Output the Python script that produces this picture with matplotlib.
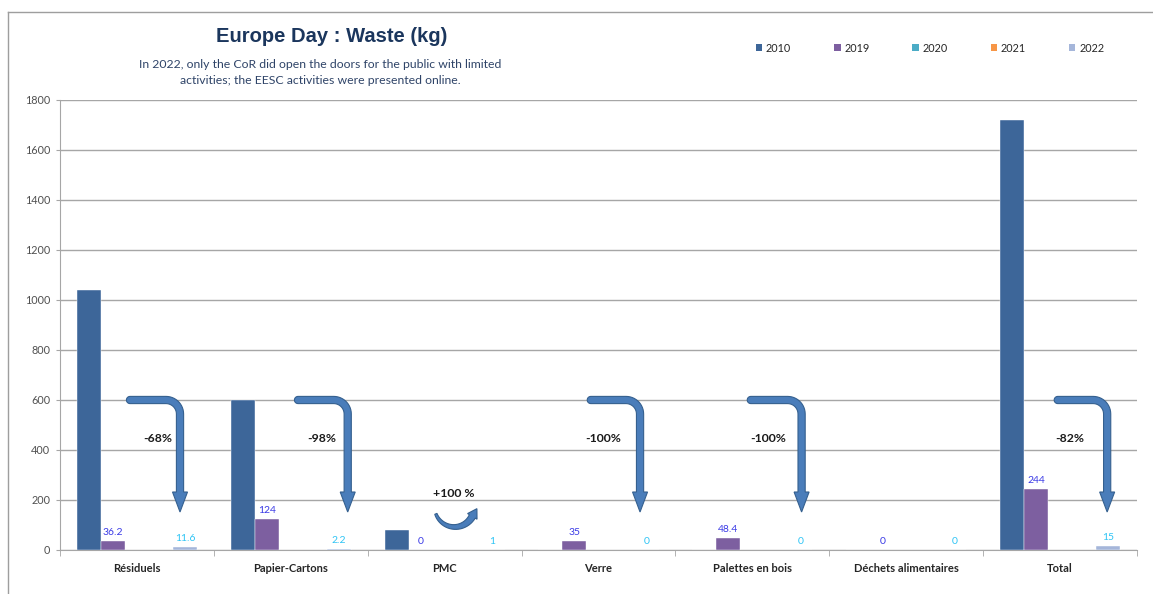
import numpy as np
import matplotlib
matplotlib.use('Agg')
import matplotlib.pyplot as plt
from matplotlib.patches import Polygon, Patch
from matplotlib.lines import Line2D

categories = ['Résiduels', 'Papier-Cartons', 'PMC', 'Verre', 'Palettes en bois',
              'Déchets alimentaires', 'Total']
years = ['2010', '2019', '2020', '2021', '2022']
waste_2010 = [1040, 600, 80, 0, 0, 0, 1720]
waste_2019 = [36.2, 124, 0, 35, 48.4, 0, 244]
waste_2020 = [0, 0, 0, 0, 0, 0, 0]
waste_2021 = [0, 0, 0, 0, 0, 0, 0]
waste_2022 = [11.6, 2.2, 1, 0, 0, 0, 15]
colors = ['#3D6699', '#7D5FA0', '#4BACC6', '#F79646', '#A5B6DA']

# evolution 2010 -> 2022 written next to the arrows
changes = ['-68%', '-98%', '+100 %', '-100%', '-100%', None, '-82%']

ARROW_FC = '#4A7DBA'
ARROW_EC = '#35608F'
GRID = '#A6A6A6'


def band_arrow(ax, pts, half, head_w, head_l, round_start=False):
    # thick arrow built as a polygon around a centerline given in pixels
    pts = np.asarray(pts, float)
    d = np.gradient(pts, axis=0)
    d /= np.hypot(d[:, 0], d[:, 1])[:, None]
    n = np.column_stack([-d[:, 1], d[:, 0]])
    half = np.broadcast_to(np.asarray(half, float), (len(pts),))[:, None]
    left = pts + n * half
    right = pts - n * half
    end, de, ne = pts[-1], d[-1], n[-1]
    head = [end + ne * head_w, end + de * head_l, end - ne * head_w]
    parts = [left, head, right[::-1]]
    if round_start:
        t = np.linspace(0, np.pi, 12)[1:-1, None]
        p0, d0, n0, h0 = pts[0], d[0], n[0], half[0, 0]
        parts.append(p0 + h0 * (np.cos(t) * -n0 + np.sin(t) * -d0))
    outline = np.vstack(parts)
    ax.add_patch(Polygon(ax.transData.inverted().transform(outline), closed=True,
                         fc=ARROW_FC, ec=ARROW_EC, lw=0.8, zorder=5, clip_on=False))


def bent_arrow(ax, start, tip, r=14, head_l=20):
    (sx, sy), (tx, ty) = ax.transData.transform([start, tip])
    cx, cy = tx - r, sy - r
    a = np.linspace(np.pi / 2, 0, 14)
    horiz = np.column_stack([np.linspace(sx, cx, 8)[:-1], np.full(7, sy)])
    arc = np.column_stack([cx + r * np.cos(a), cy + r * np.sin(a)])
    vert = np.column_stack([np.full(8, tx), np.linspace(cy, ty + head_l, 9)[1:]])
    band_arrow(ax, np.vstack([horiz, arc, vert]), 3.6, 7.5, head_l, round_start=True)


def u_arrow(ax, center, r=20):
    cx, cy = ax.transData.transform([center])[0]
    a = np.radians(np.linspace(200, 332, 24))
    pts = np.column_stack([cx + r * np.cos(a), cy + r * np.sin(a)])
    band_arrow(ax, pts, np.linspace(1.2, 3.4, 24), 5.5, 9)


fig = plt.figure(figsize=(11.53, 5.94), dpi=100)
ax = fig.add_axes([60 / 1153, 44 / 594, 1077 / 1153, 450 / 594])

x = np.arange(len(categories))
width = 0.156
series = [waste_2010, waste_2019, waste_2020, waste_2021, waste_2022]
containers = []
for k, (vals, col) in enumerate(zip(series, colors)):
    bars = ax.bar(x + (k - 2) * width, vals, width, color=col, label=years[k],
                  edgecolor='white', linewidth=0.3, zorder=3)
    containers.append(bars)

ax.bar_label(containers[1], fmt='%g', padding=3, color='#3A3AE6', fontsize=7.5,
             family='Lato')
ax.bar_label(containers[4], fmt='%g', padding=3, color='#2EC4F5', fontsize=7.5,
             family='Lato')

ax.set_xlim(-0.5, 6.5)
ax.set_ylim(0, 1800)
ax.set_yticks(np.arange(0, 1801, 200))
ax.yaxis.grid(True, color=GRID, lw=1)
ax.set_axisbelow(True)
for s in ['top', 'right']:
    ax.spines[s].set_visible(False)
for s in ['left', 'bottom']:
    ax.spines[s].set_color(GRID)
ax.tick_params(axis='y', colors=GRID, labelcolor='#505050', labelsize=7.8, length=3, pad=4)
for lab in ax.get_yticklabels():
    lab.set_family('Lato')

ax.set_xticks(x)
ax.set_xticklabels(categories, fontsize=8, fontweight='bold', color='#262626', family='Lato')
ax.set_xticks(np.arange(-0.5, 7, 1), minor=True)
ax.tick_params(axis='x', which='major', length=0, pad=9)
ax.tick_params(axis='x', which='minor', length=4, color=GRID)

# arrows showing the change between 2010 and 2022
arrow_start = [-0.045, 0.047, None, -0.05, -0.01, None, -0.015]
arrow_tip = [0.28, 0.37, None, 0.27, 0.32, None, 0.306]
text_dx = [0.136, 0.2, 0.06, 0.03, 0.10, None, 0.06]
for i in range(len(categories)):
    if changes[i] is None:
        continue
    if arrow_start[i] is not None:
        bent_arrow(ax, (i + arrow_start[i], 600), (i + arrow_tip[i], 152))
        ax.text(i + text_dx[i], 445, changes[i], ha='center', va='center',
                fontsize=8.8, fontweight='bold', color='#1A1A1A', family='Lato', zorder=6)
    else:
        u_arrow(ax, (i + 0.065, 172))
        ax.text(i + text_dx[i], 226, changes[i], ha='center', va='center',
                fontsize=8.8, fontweight='bold', color='#1A1A1A', family='Lato', zorder=6)

fig.text(332 / 1153, 1 - 37 / 594, 'Europe Day : Waste (kg)', ha='center', va='center',
         fontsize=14.5, fontweight='bold', color='#1B365D', family='Liberation Sans')
fig.text(320 / 1153, 1 - 64 / 594,
         'In 2022, only the CoR did open the doors for the public with limited',
         ha='center', va='center', fontsize=8.8, color='#2F4468', family='Lato')
fig.text(320 / 1153, 1 - 81 / 594, 'activities; the EESC activities were presented online.',
         ha='center', va='center', fontsize=8.8, color='#2F4468', family='Lato')

handles = [Patch(facecolor=c, edgecolor='none') for c in colors]
leg = fig.legend(handles, years, loc='center left', bbox_to_anchor=(746 / 1153, 1 - 48 / 594),
                 ncol=5, frameon=False, handlelength=0.6, handleheight=0.6,
                 handletextpad=0.35, columnspacing=3.95, prop={'family': 'Lato', 'size': 7.8})
for t in leg.get_texts():
    t.set_color('#262626')

# outer frame of the chart area
fig.add_artist(Line2D([8 / 1153, 8 / 1153], [0, 1 - 12 / 594], transform=fig.transFigure,
                      color='#9E9E9E', lw=1))
fig.add_artist(Line2D([8 / 1153, 1], [1 - 12 / 594, 1 - 12 / 594], transform=fig.transFigure,
                      color='#9E9E9E', lw=1))

fig.savefig('out.png', dpi=100)
